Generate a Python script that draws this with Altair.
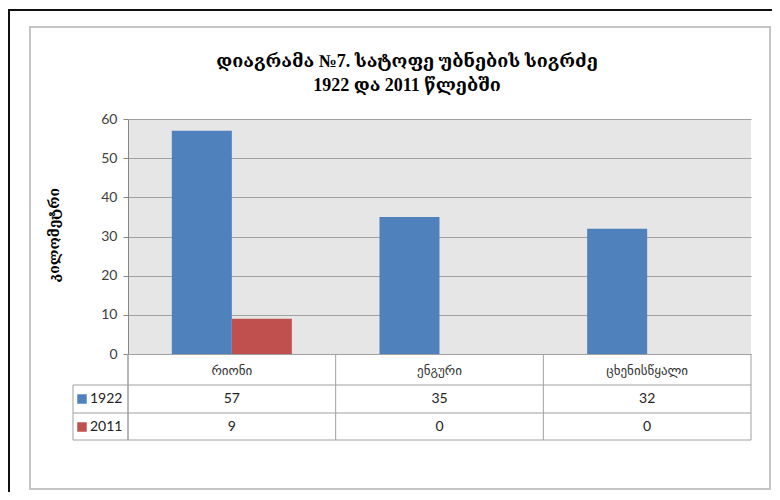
import altair as alt
import pandas as pd

categories = ["რიონი", "ენგური", "ცხენისწყალი"]
years = ["1922", "2011"]
values_1922 = [57, 35, 32]
values_2011 = [9, 0, 0]
y_ticks = [0, 10, 20, 30, 40, 50, 60]
title_lines = ["დიაგრამა №7. სატოფე უბნების სიგრძე", "1922 და 2011 წლებში"]
y_title = "კილომეტრი"

rows = []
for i, c in enumerate(categories):
    rows.append({"river": c, "year": years[0], "value": values_1922[i]})
    rows.append({"river": c, "year": years[1], "value": values_2011[i]})
df = pd.DataFrame(rows)
one = pd.DataFrame({"k": [0]})
cat_df = pd.DataFrame({"river": categories})
year_df = pd.DataFrame({"year": years})
title_df = pd.DataFrame({"line": title_lines, "n": [0, 1]})

W, H = 623, 235
BLUE, RED = "#4F81BD", "#C0504D"
GRID = "#a0a0a0"
NUMFONT = "Lato"
TITLEFONT = "Liberation Serif, DejaVu Serif"

xscale = alt.Scale(domain=categories, paddingInner=0, paddingOuter=0)
x_enc = alt.X("river:N", sort=categories, scale=xscale, axis=None)
color_enc = alt.Color("year:N", scale=alt.Scale(domain=years, range=[BLUE, RED]), legend=None)

# decorative frames
outer_frame = alt.Chart(one).mark_rect(fill=None, stroke="#111111", strokeWidth=2).encode(
    x=alt.value(-119), x2=alt.value(700), y=alt.value(-109), y2=alt.value(420))
grey_box = alt.Chart(one).mark_rect(fill=None, stroke="#c4c4c4", strokeWidth=2).encode(
    x=alt.value(-98), x2=alt.value(642), y=alt.value(-92), y2=alt.value(370))

bars = alt.Chart(df).mark_bar().encode(
    x=x_enc,
    xOffset=alt.XOffset("year:N", sort=years,
                        scale=alt.Scale(domain=years, paddingInner=0, paddingOuter=0.73)),
    y=alt.Y("value:Q", scale=alt.Scale(domain=[0, 60], nice=False),
            axis=alt.Axis(values=y_ticks, title=y_title, titleFont="DejaVu Serif",
                          titleFontSize=14, titleFontWeight="bold", titleColor="#000",
                          titleAngle=-90, titleX=-74, titleY=H / 2 - 2, titleAlign="center",
                          titleBaseline="middle",
                          labelFont=NUMFONT, labelFontSize=14, labelColor="#404040",
                          labelPadding=6, tickSize=5, tickColor="#868686",
                          domainColor="#868686", gridColor=GRID, grid=True)),
    color=color_enc,
)

def hrule(y, x1, x2):
    return alt.Chart(one).mark_rule(color=GRID, strokeWidth=1).encode(
        x=alt.value(x1), x2=alt.value(x2), y=alt.value(y))

def vrule(x, y1, y2):
    return alt.Chart(one).mark_rule(color=GRID, strokeWidth=1).encode(
        x=alt.value(x), y=alt.value(y1), y2=alt.value(y2))

cat_rules = alt.Chart(cat_df).mark_rule(color=GRID, strokeWidth=1).encode(
    x=alt.X("river:N", sort=categories, scale=xscale, axis=None, bandPosition=0),
    y=alt.value(H), y2=alt.value(321))

cat_labels = alt.Chart(cat_df).mark_text(font="DejaVu Sans", fontSize=13, color="#333333").encode(
    x=x_enc, y=alt.value(252), text="river:N")

row_y = {"1922": 280, "2011": 308}
value_rows = []
header_rows = []
for yr in years:
    value_rows.append(
        alt.Chart(df).transform_filter(alt.datum.year == yr)
        .mark_text(font=NUMFONT, fontSize=14, color="#222222")
        .encode(x=x_enc, y=alt.value(row_y[yr]), text="value:Q"))
    header_rows.append(
        alt.Chart(year_df).transform_filter(alt.datum.year == yr)
        .mark_square(size=90, opacity=1)
        .encode(x=alt.value(-46), y=alt.value(row_y[yr]), color=color_enc))
    header_rows.append(
        alt.Chart(year_df).transform_filter(alt.datum.year == yr)
        .mark_text(font=NUMFONT, fontSize=14, color="#222222", align="left")
        .encode(x=alt.value(-38), y=alt.value(row_y[yr]), text="year:N"))

title_marks = []
for i, ty in enumerate([-57, -33]):
    title_marks.append(
        alt.Chart(title_df).transform_filter(alt.datum.n == i)
        .mark_text(font=TITLEFONT, fontSize=18, fontWeight="bold", color="#000000",
                   align="center", baseline="middle")
        .encode(x=alt.value(279), y=alt.value(ty), text="line:N"))

grid_lines = [
    hrule(266, -55, W), hrule(294, -55, W), hrule(321, -55, W),
    vrule(-55, 266, 321), vrule(W, H, 321), vrule(0, H, 321),
]

chart = alt.layer(
    outer_frame, grey_box, bars, cat_rules, *grid_lines, cat_labels, *value_rows,
    *header_rows, *title_marks
).properties(
    width=W, height=H,
    autosize=alt.AutoSizeParams(type="none"),
    padding={"left": 120, "top": 111, "right": 21, "bottom": 138},
).configure_view(fill="#e6e6e6", stroke=None)

chart.save("out.html", embed_options={"renderer": "svg", "actions": False})
